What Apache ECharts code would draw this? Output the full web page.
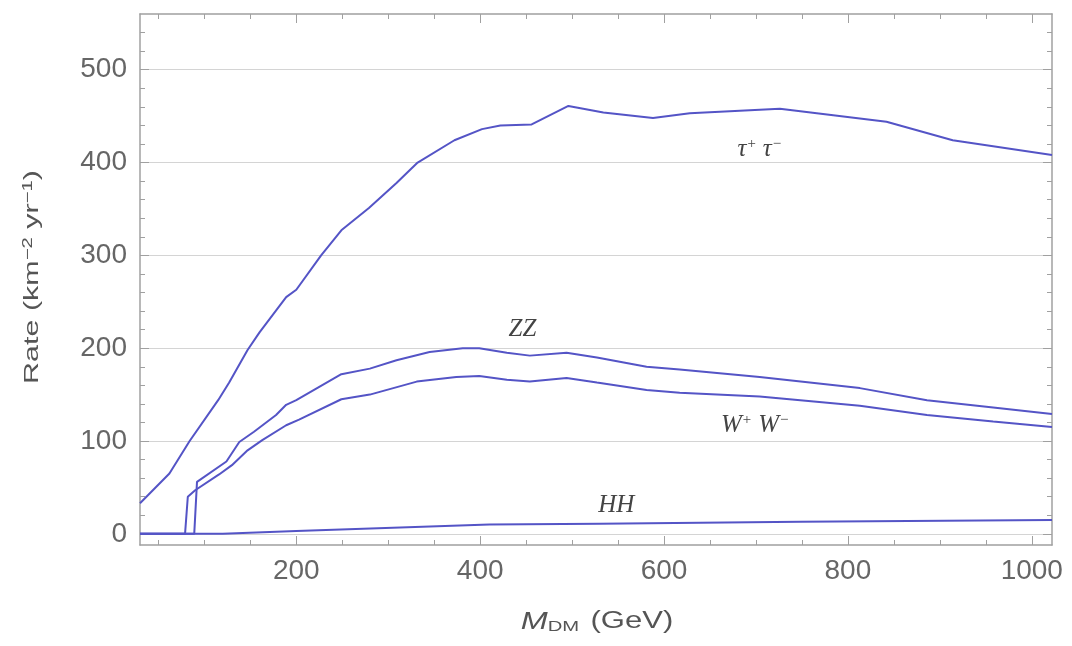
<!DOCTYPE html>
<html>
<head>
<meta charset="utf-8">
<script src="https://cdn.jsdelivr.net/npm/echarts@6/dist/echarts.min.js"></script>
<style>
  html, body { margin: 0; background: #fff; }
  #chart { width: 1072px; height: 646px; }
</style>
</head>
<body>
<div id="chart"></div>
<script>
// masses (GeV) and rates (km^-2 yr^-1)
var tauMass = [30, 62, 84, 115, 127, 147, 160, 189, 200, 227, 249, 279, 309, 332, 372, 402, 422, 456, 496, 534, 588, 628, 726, 842, 914, 1022];
var tauRate = [33, 65, 100, 144, 163, 198, 217, 255, 263, 300, 327, 351, 378, 400, 424, 436, 440, 441, 461, 454, 448, 453, 458, 444, 424, 408];

var zzMass = [30, 89, 92, 124, 138, 154, 178, 189, 200, 249, 280, 309, 345, 381, 399, 429, 454, 494, 527, 581, 617, 704, 813, 886, 958, 1022];
var zzRate = [0, 0, 56, 78, 99, 110, 128, 139, 144, 172, 178, 187, 196, 200, 200, 195, 192, 195, 190, 180, 177, 169, 157, 144, 136, 129];

var wwMass = [30, 79, 82, 90, 116, 130, 147, 163, 189, 203, 249, 280, 331, 374, 399, 429, 454, 494, 527, 581, 617, 704, 813, 886, 958, 1022];
var wwRate = [0, 0, 40, 47, 64, 74, 90, 101, 117, 123, 145, 150, 164, 169, 170, 166, 164, 168, 163, 155, 152, 148, 138, 128, 121, 115];

var hhMass = [30, 120, 200, 410, 530, 748, 1022];
var hhRate = [0, 0, 3, 10, 11, 13, 15];

var xMajor = [200, 400, 600, 800, 1000];
var xMinor = [50, 100, 150, 250, 300, 350, 450, 500, 550, 650, 700, 750, 850, 900, 950];
var yMajor = [0, 100, 200, 300, 400, 500];
var yMinor = [20, 40, 60, 80, 120, 140, 160, 180, 220, 240, 260, 280, 320, 340, 360, 380, 420, 440, 460, 480, 520, 540];

function pairs(xs, ys) {
    return xs.map(function (x, i) { return [x, ys[i]]; });
}

var chart = echarts.init(document.getElementById('chart'));

var lineColor = '#5454c6';
var frameColor = '#a0a0a0';

function xAx(pos, ticks, len, main) {
    return {
        type: 'value', min: 30, max: 1022, position: pos,
        axisLine: { show: main, onZero: false, lineStyle: { color: frameColor, width: 1.5 } },
        axisTick: { show: true, inside: true, length: len, customValues: ticks,
                    lineStyle: { color: frameColor, width: 1 } },
        axisLabel: { show: main && pos === 'bottom', customValues: ticks, margin: 12,
                     formatter: function (v) { return String(v); },
                     fontFamily: 'Liberation Sans', fontSize: 28, color: '#666' },
        splitLine: { show: false }
    };
}

function yAx(pos, ticks, len, main) {
    return {
        type: 'value', min: -12, max: 560, position: pos,
        axisLine: { show: main, onZero: false, lineStyle: { color: frameColor, width: 1.5 } },
        axisTick: { show: true, inside: true, length: len, customValues: ticks,
                    lineStyle: { color: frameColor, width: 1 } },
        axisLabel: { show: main && pos === 'left', customValues: ticks, margin: 13,
                     formatter: function (v) { return String(v); },
                     fontFamily: 'Liberation Sans', fontSize: 28, color: '#666' },
        splitLine: { show: main && pos === 'left', lineStyle: { color: '#d4d4d4', width: 1 } }
    };
}

var labelRich = {
    b: { fontFamily: 'Liberation Serif', fontStyle: 'italic', fontSize: 25, color: '#444' },
    p: { fontFamily: 'Liberation Serif', fontSize: 15, color: '#444', verticalAlign: 'top', lineHeight: 14 }
};

function curve(name, xs, ys, labelText, labelAt) {
    return {
        name: name, type: 'line', xAxisIndex: 0, yAxisIndex: 0,
        data: pairs(xs, ys),
        showSymbol: false, symbol: 'none',
        lineStyle: { color: lineColor, width: 2 },
        markPoint: {
            silent: true, symbol: 'circle', symbolSize: 0,
            label: {
                show: true, position: 'inside', formatter: labelText,
                fontFamily: 'Liberation Serif', fontStyle: 'italic', fontSize: 25, color: '#444',
                rich: labelRich
            },
            data: [{ coord: labelAt }]
        }
    };
}

var option = {
    animation: false,
    backgroundColor: '#fff',
    grid: { left: 140, right: 20, top: 14, bottom: 101, containLabel: false },
    xAxis: [
        xAx('bottom', xMajor, 9, true),
        xAx('bottom', xMinor, 5, false),
        xAx('top', xMajor, 9, true),
        xAx('top', xMinor, 5, false)
    ],
    yAxis: [
        yAx('left', yMajor, 9, true),
        yAx('left', yMinor, 5, false),
        yAx('right', yMajor, 9, true),
        yAx('right', yMinor, 5, false)
    ],
    series: [
        curve('tau', tauMass, tauRate, '{b|τ}{p|+} {b|τ}{p|−}', [704, 414]),
        curve('ZZ', zzMass, zzRate, '{b|ZZ}', [446, 220]),
        curve('WW', wwMass, wwRate, '{b|W}{p|+} {b|W}{p|−}', [699, 117]),
        curve('HH', hhMass, hhRate, '{b|HH}', [548, 31])
    ],
    graphic: [
        {
            type: 'text', x: 32, y: 277, rotation: Math.PI / 2, scaleX: 1.45,
            style: {
                text: '{n|Rate (km}{p|−2}{n| yr}{p|−1}{n|)}',
                align: 'center', verticalAlign: 'middle',
                fontFamily: 'Liberation Sans', fontSize: 21, fill: '#555',
                rich: {
                    n: { fontFamily: 'Liberation Sans', fontSize: 21, fill: '#555' },
                    p: { fontFamily: 'Liberation Sans', fontSize: 14, fill: '#555', verticalAlign: 'top', lineHeight: 12 }
                }
            }
        },
        {
            type: 'text', x: 597, y: 622, scaleX: 1.35,
            style: {
                text: '{m|M}{s|DM} (GeV)',
                align: 'center', verticalAlign: 'middle',
                fontFamily: 'Liberation Sans', fontSize: 23, fill: '#555',
                rich: {
                    m: { fontFamily: 'Liberation Sans', fontStyle: 'italic', fontSize: 24, fill: '#555' },
                    s: { fontFamily: 'Liberation Sans', fontSize: 15, fill: '#555', verticalAlign: 'bottom', padding: [10, 2, 0, 0] }
                }
            }
        }
    ]
};

chart.setOption(option);
</script>
</body>
</html>
